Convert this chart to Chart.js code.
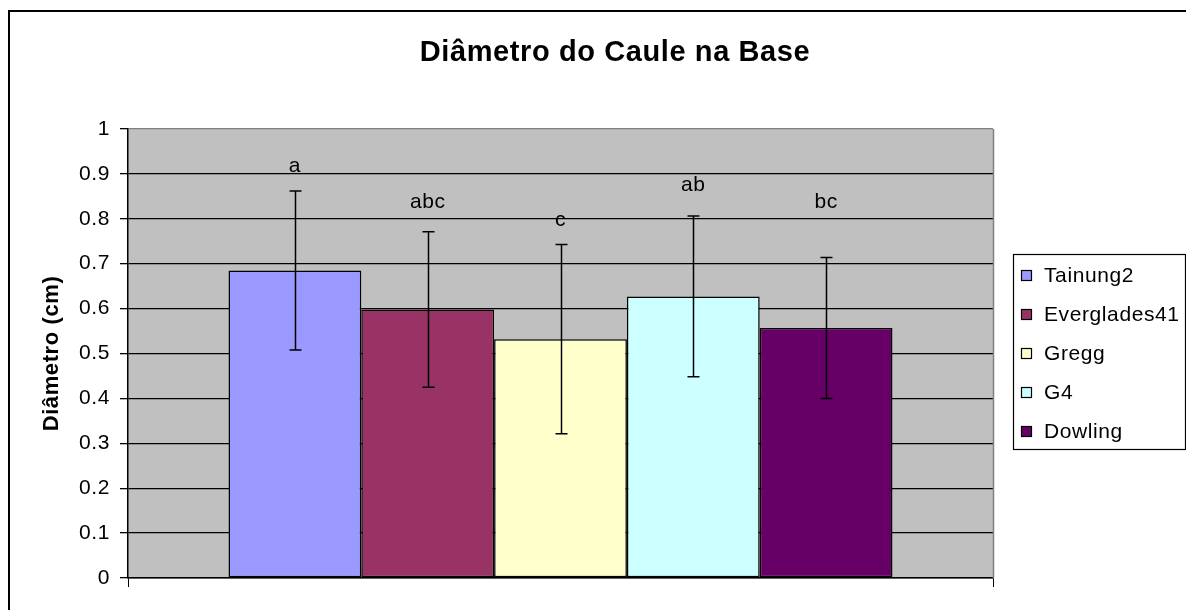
<!DOCTYPE html>
<html>
<head>
<meta charset="utf-8">
<script src="https://cdn.jsdelivr.net/npm/chart.js@4.4.0/dist/chart.umd.min.js"></script>
<style>
  html, body { margin: 0; padding: 0; background: #fff; }
  #wrap { width: 1186px; height: 610px; }
</style>
</head>
<body>
<div id="wrap"><canvas id="myChart"></canvas></div>
<script>
const varieties = ['Tainung2', 'Everglades41', 'Gregg', 'G4', 'Dowling'];
const diameters = [0.685, 0.598, 0.532, 0.627, 0.557];
const errors = [0.177, 0.173, 0.211, 0.179, 0.157];
const letters = ['a', 'abc', 'c', 'ab', 'bc'];
const letterLevels = [0.918, 0.836, 0.796, 0.875, 0.836];
const colors = ['#9999FF', '#993366', '#FFFFCC', '#CCFFFF', '#660066'];

const FONT = "'Liberation Sans', Arial, sans-serif";
const SPACING = '0.6px';

// excel-ish wide text
const spacingPlugin = {
  id: 'spacing',
  beforeLayout(chart) { chart.ctx.letterSpacing = SPACING; },
  beforeDraw(chart) { chart.ctx.letterSpacing = SPACING; },
};

const framePlugin = {
  id: 'frame',
  beforeDraw(chart) {
    const {ctx, chartArea: a} = chart;
    ctx.save();
    ctx.fillStyle = '#C0C0C0';
    ctx.fillRect(a.left, a.top, a.right - a.left, a.bottom - a.top);
    // outer chart border (only top and left visible)
    ctx.strokeStyle = '#000';
    ctx.lineWidth = 2;
    ctx.beginPath();
    ctx.moveTo(9, 640);
    ctx.lineTo(9, 11);
    ctx.lineTo(1220, 11);
    ctx.stroke();
    // title
    ctx.fillStyle = '#000';
    ctx.font = 'bold 29px ' + FONT;
    ctx.textAlign = 'center';
    ctx.textBaseline = 'middle';
    ctx.fillText('Diâmetro do Caule na Base', 615, 53);
    ctx.restore();
  },
  afterDraw(chart) {
    const {ctx, chartArea: a} = chart;
    ctx.save();
    ctx.strokeStyle = '#808080';
    ctx.lineWidth = 1.5;
    ctx.beginPath();
    ctx.moveTo(a.right + 0.5, a.top);
    ctx.lineTo(a.right + 0.5, a.bottom);
    ctx.stroke();
    ctx.restore();
  },
};

const errorPlugin = {
  id: 'errorBars',
  afterDatasetsDraw(chart) {
    const {ctx} = chart;
    const y = chart.scales.y;
    ctx.save();
    ctx.strokeStyle = '#000';
    ctx.lineWidth = 1.5;
    ctx.fillStyle = '#000';
    ctx.font = '21px ' + FONT;
    ctx.textAlign = 'center';
    ctx.textBaseline = 'middle';
    chart.data.datasets.forEach((ds, i) => {
      const bar = chart.getDatasetMeta(i).data[0];
      const x = Math.round(bar.x) + 0.5;
      const hi = y.getPixelForValue(diameters[i] + errors[i]);
      const lo = y.getPixelForValue(diameters[i] - errors[i]);
      ctx.beginPath();
      ctx.moveTo(x, hi); ctx.lineTo(x, lo);
      ctx.moveTo(x - 6, hi); ctx.lineTo(x + 6, hi);
      ctx.moveTo(x - 6, lo); ctx.lineTo(x + 6, lo);
      ctx.stroke();
      ctx.fillText(letters[i], bar.x, y.getPixelForValue(letterLevels[i]));
    });
    ctx.restore();
  },
};

const legendPlugin = {
  id: 'boxLegend',
  afterDraw(chart) {
    const {ctx} = chart;
    ctx.save();
    ctx.strokeStyle = '#000';
    ctx.lineWidth = 1.2;
    ctx.strokeRect(1013.5, 254.5, 172, 195);
    ctx.font = '21px ' + FONT;
    ctx.textBaseline = 'middle';
    ctx.textAlign = 'left';
    chart.data.datasets.forEach((ds, i) => {
      const cy = 275.5 + i * 39;
      ctx.fillStyle = ds.backgroundColor;
      ctx.fillRect(1021, cy - 5.5, 11, 11);
      ctx.strokeRect(1021.5, cy - 5, 10, 10);
      ctx.fillStyle = '#000';
      ctx.fillText(ds.label, 1044, cy + 1);
    });
    ctx.restore();
  },
};

const ctx = document.getElementById('myChart');
const myChart = new Chart(ctx, {
  type: 'bar',
  data: {
    labels: [''],
    datasets: varieties.map((name, i) => ({
      label: name,
      data: [diameters[i]],
      backgroundColor: colors[i],
      borderColor: '#000',
      borderWidth: 1.5,
      borderSkipped: false,
    })),
  },
  options: {
    responsive: true,
    maintainAspectRatio: false,
    animation: false,
    datasets: {
      bar: { barPercentage: 1, categoryPercentage: 0.7676 },
    },
    layout: {
      padding: { left: 20, right: 193, top: 129, bottom: 22 },
    },
    plugins: {
      legend: { display: false },
      title: { display: false },
      tooltip: { enabled: false },
    },
    scales: {
      x: {
        grid: {
          offset: true,
          drawOnChartArea: false,
          color: '#000',
          tickLength: 9,
        },
        border: { color: '#000', width: 1.5 },
        ticks: { display: true },
        afterFit(scale) { scale.height = 10; },
      },
      y: {
        min: 0,
        max: 1,
        ticks: {
          stepSize: 0.1,
          color: '#000',
          padding: 10,
          font: { family: FONT, size: 21 },
          callback: (v) => String(Math.round(v * 10) / 10),
        },
        grid: {
          color: (c) => (c.tick && c.tick.value === 1 ? '#808080' : '#000'),
          tickColor: '#000',
          lineWidth: 1.3,
          tickLength: 8,
        },
        border: { color: '#000', width: 1.5 },
        title: {
          display: true,
          text: 'Diâmetro (cm)',
          color: '#000',
          font: { family: FONT, size: 22, weight: 'bold' },
          padding: { top: 19, bottom: 0 },
        },
        afterFit(scale) { scale.width = 108; },
      },
    },
  },
  plugins: [spacingPlugin, framePlugin, errorPlugin, legendPlugin],
});
</script>
</body>
</html>
